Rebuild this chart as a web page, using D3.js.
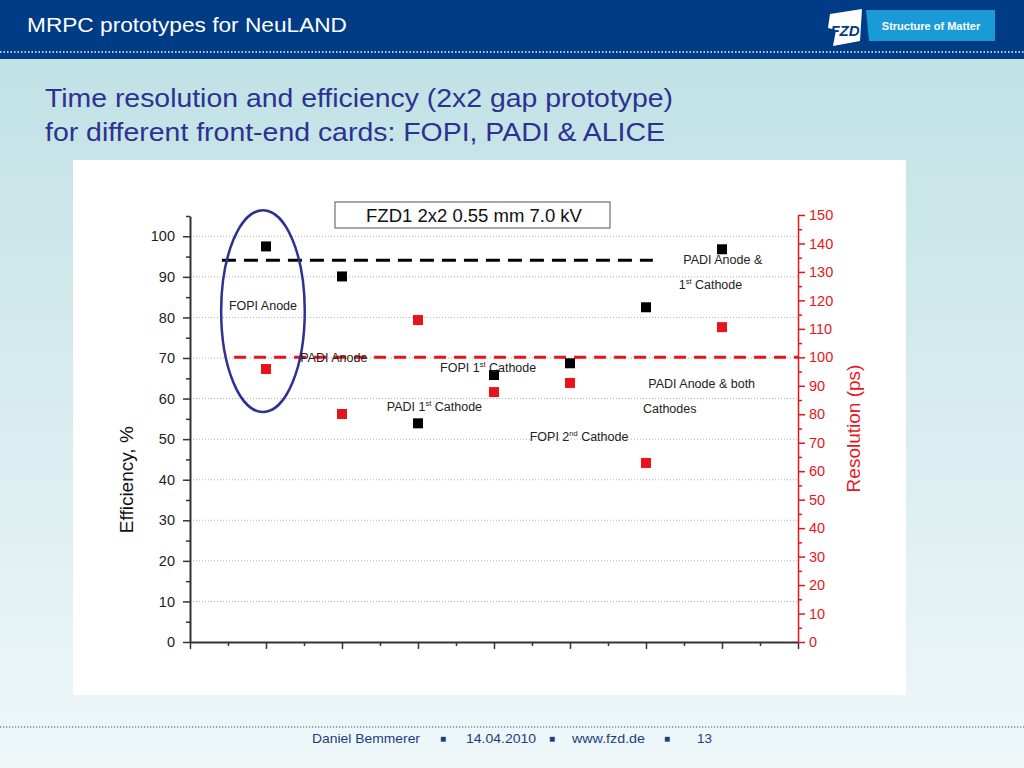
<!DOCTYPE html>
<html>
<head>
<meta charset="utf-8">
<script src="https://cdn.jsdelivr.net/npm/d3@7"></script>
<style>
  html, body { margin: 0; padding: 0; }
  svg { display: block; font-family: "Liberation Sans", Arial, sans-serif; }
</style>
</head>
<body>
<svg id="slide" width="1024" height="768"></svg>
<script>
// Front-end card configurations, one per x position
const cards = ["FOPI Anode", "PADI Anode", "PADI 1st Cathode", "FOPI 1st Cathode",
               "FOPI 2nd Cathode", "PADI Anode & both Cathodes", "PADI Anode & 1st Cathode"];
const cardPos = [1, 2, 3, 4, 5, 6, 7];

// Efficiency (%) - black squares, left axis
const efficiency = [97.5, 90.1, 53.9, 65.8, 68.7, 82.5, 96.8];
// Time resolution (ps) - red squares, right axis
const resolution = [95.9, 80.1, 113.1, 87.8, 91.0, 62.9, 110.6];

// Reference dashed lines
const effReference = 94.1;
const resReference = 100;

// Tick values
const effTicks = [0, 10, 20, 30, 40, 50, 60, 70, 80, 90, 100];
const resTicks = [0, 10, 20, 30, 40, 50, 60, 70, 80, 90, 100, 110, 120, 130, 140, 150];

const svg = d3.select('#slide');

// ---- slide background ----
const defs = svg.append('defs');
const grad = defs.append('linearGradient').attr('id', 'bg').attr('x1', 0).attr('y1', 0).attr('x2', 0).attr('y2', 1);
grad.append('stop').attr('offset', '0%').attr('stop-color', '#bde0e3');
grad.append('stop').attr('offset', '100%').attr('stop-color', '#eff7f9');
svg.append('rect').attr('width', 1024).attr('height', 768).attr('fill', 'url(#bg)');

// header bar
svg.append('rect').attr('width', 1024).attr('height', 59).attr('fill', '#003c86');
svg.append('line').attr('x1', 0).attr('x2', 1024).attr('y1', 52).attr('y2', 52)
    .attr('stroke', '#ffffff').attr('stroke-width', 1.5).attr('stroke-dasharray', '1.5,2');
svg.append('text').attr('x', 27).attr('y', 32).attr('fill', '#ffffff')
    .attr('font-size', 21).attr('textLength', 320).attr('lengthAdjust', 'spacingAndGlyphs')
    .text('MRPC prototypes for NeuLAND');

// logo
svg.append('polygon').attr('points', '830,14 862,9 860,41 833,46 836,30 828,28')
    .attr('fill', '#ffffff');
svg.append('text').attr('x', 845).attr('y', 36).attr('text-anchor', 'middle')
    .attr('fill', '#003c86').attr('font-size', 15).attr('font-weight', 'bold').attr('font-style', 'italic')
    .text('FZD');
svg.append('polygon').attr('points', '866,10 995,10 995,41 869,41').attr('fill', '#1b9ad8');
svg.append('text').attr('x', 931).attr('y', 30).attr('text-anchor', 'middle')
    .attr('fill', '#ffffff').attr('font-size', 11).attr('font-weight', 'bold')
    .text('Structure of Matter');

// slide title
const titleLines = ['Time resolution and efficiency (2x2 gap prototype)',
                    'for different front-end cards: FOPI, PADI & ALICE'];
const titleWidths = [628, 620];
titleLines.forEach((line, i) => {
    svg.append('text').attr('x', 45).attr('y', 107 + i * 34).attr('fill', '#2d3192')
        .attr('font-size', 26).attr('textLength', titleWidths[i]).attr('lengthAdjust', 'spacingAndGlyphs')
        .text(line);
});

// footer
svg.append('line').attr('x1', 0).attr('x2', 1024).attr('y1', 727).attr('y2', 727)
    .attr('stroke', '#2c5590').attr('stroke-width', 1.2).attr('stroke-dasharray', '1.2,1.8');
const footer = [
    { t: 'Daniel Bemmerer', x: 312, w: 108 },
    { t: '\u25A0', x: 440 },
    { t: '14.04.2010', x: 466, w: 70 },
    { t: '\u25A0', x: 549 },
    { t: 'www.fzd.de', x: 572, w: 73 },
    { t: '\u25A0', x: 664 },
    { t: '13', x: 697, w: 15 }
];
footer.forEach((f) => {
    const t = svg.append('text').attr('x', f.x).attr('y', 743).attr('fill', '#1d3e7e')
        .attr('font-size', f.w ? 13 : 10).text(f.t);
    if (f.w) t.attr('textLength', f.w).attr('lengthAdjust', 'spacingAndGlyphs');
    else t.attr('y', 742);
});

// ---- chart panel ----
svg.append('rect').attr('x', 73).attr('y', 160).attr('width', 833).attr('height', 535).attr('fill', '#ffffff');

const x = d3.scaleLinear().domain([0, 8]).range([190, 798]);
const yEff = d3.scaleLinear().domain([0, 105]).range([642, 216]);
const yRes = d3.scaleLinear().domain([0, 150]).range([642, 215]);

const chart = svg.append('g');

// dotted grid lines
chart.append('g').selectAll('line').data(effTicks.slice(1)).join('line')
    .attr('x1', x(0)).attr('x2', x(8))
    .attr('y1', (d) => yEff(d)).attr('y2', (d) => yEff(d))
    .attr('stroke', '#9a9a9a').attr('stroke-width', 0.8).attr('stroke-dasharray', '1,2');

// left axis (efficiency)
const leftMinor = d3.range(5, 106, 10);
chart.append('g').attr('transform', `translate(${x(0)},0)`)
    .call(d3.axisLeft(yEff).tickValues(leftMinor).tickSize(4).tickFormat(''))
    .call((g) => g.select('.domain').remove())
    .call((g) => g.selectAll('line').attr('stroke', '#333').attr('stroke-width', 1.5));
const leftAxis = chart.append('g').attr('transform', `translate(${x(0)},0)`)
    .call(d3.axisLeft(yEff).tickValues(effTicks).tickSize(7).tickSizeOuter(0).tickPadding(8));
leftAxis.select('.domain').attr('stroke', '#333').attr('stroke-width', 2);
leftAxis.selectAll('line').attr('stroke', '#333').attr('stroke-width', 1.5);
leftAxis.selectAll('text').attr('font-size', 14.5).attr('fill', '#222')
    .attr('font-family', '"Liberation Sans", Arial, sans-serif');

// bottom axis (no labels)
const bottomMinor = d3.range(0.5, 8, 1);
chart.append('g').attr('transform', `translate(0,${yEff(0)})`)
    .call(d3.axisBottom(x).tickValues(bottomMinor).tickSize(4).tickFormat(''))
    .call((g) => g.select('.domain').remove())
    .call((g) => g.selectAll('line').attr('stroke', '#333').attr('stroke-width', 1.5));
const bottomAxis = chart.append('g').attr('transform', `translate(0,${yEff(0)})`)
    .call(d3.axisBottom(x).tickValues(d3.range(0, 9)).tickSize(7).tickSizeOuter(0).tickFormat(''));
bottomAxis.select('.domain').attr('stroke', '#333').attr('stroke-width', 2);
bottomAxis.selectAll('line').attr('stroke', '#333').attr('stroke-width', 1.5);

// right axis (resolution)
const red = '#e8141c';
const rightMinor = d3.range(5, 150, 10);
chart.append('g').attr('transform', `translate(${x(8)},0)`)
    .call(d3.axisRight(yRes).tickValues(rightMinor).tickSize(4).tickFormat(''))
    .call((g) => g.select('.domain').remove())
    .call((g) => g.selectAll('line').attr('stroke', red).attr('stroke-width', 1.5));
const rightAxis = chart.append('g').attr('transform', `translate(${x(8)},0)`)
    .call(d3.axisRight(yRes).tickValues(resTicks).tickSize(7).tickSizeOuter(0).tickPadding(4));
rightAxis.select('.domain').attr('stroke', red).attr('stroke-width', 1.5);
rightAxis.selectAll('line').attr('stroke', red).attr('stroke-width', 1.5);
rightAxis.selectAll('text').attr('font-size', 14.5).attr('fill', red)
    .attr('font-family', '"Liberation Sans", Arial, sans-serif');

// axis titles
chart.append('text').attr('transform', `translate(133,${yEff(40)}) rotate(-90)`)
    .attr('text-anchor', 'middle').attr('font-size', 19).attr('fill', '#111')
    .text('Efficiency, %');
chart.append('text').attr('transform', `translate(860,${yRes(75)}) rotate(-90)`)
    .attr('text-anchor', 'middle').attr('font-size', 19).attr('fill', red)
    .text('Resolution (ps)');

// reference dashed lines
chart.append('line')
    .attr('x1', x(0.42)).attr('x2', x(6.09))
    .attr('y1', yEff(effReference)).attr('y2', yEff(effReference))
    .attr('stroke', '#000').attr('stroke-width', 3).attr('stroke-dasharray', '14,8');
chart.append('line')
    .attr('x1', x(0.58)).attr('x2', x(8))
    .attr('y1', yRes(resReference)).attr('y2', yRes(resReference))
    .attr('stroke', red).attr('stroke-width', 3).attr('stroke-dasharray', '12,8');

// data squares
const sq = 10;
chart.append('g').selectAll('rect').data(cardPos).join('rect')
    .attr('x', (d) => x(d) - sq / 2)
    .attr('y', (d, i) => yEff(efficiency[i]) - sq / 2)
    .attr('width', sq).attr('height', sq).attr('fill', '#000');
chart.append('g').selectAll('rect').data(cardPos).join('rect')
    .attr('x', (d) => x(d) - sq / 2)
    .attr('y', (d, i) => yRes(resolution[i]) - sq / 2)
    .attr('width', sq).attr('height', sq).attr('fill', red);

// highlight ellipse round the FOPI Anode points
chart.append('ellipse')
    .attr('cx', x(0.96)).attr('cy', (yEff(106.4) + yEff(56.7)) / 2)
    .attr('rx', x(0.96) - x(0.41)).attr('ry', (yEff(56.7) - yEff(106.4)) / 2)
    .attr('fill', 'none').attr('stroke', '#2e3192').attr('stroke-width', 2.5);

// point annotations: [text, superscript, rest, x, y(efficiency units), anchor]
const notes = [
    ['FOPI Anode', '', '', 0.96, 81.8, 'middle'],
    ['PADI Anode', '', '', 1.45, 69.0, 'start'],
    ['FOPI 1', 'st', ' Cathode', 3.29, 66.5, 'start'],
    ['PADI 1', 'st', ' Cathode', 2.59, 56.9, 'start'],
    ['FOPI 2', 'nd', ' Cathode', 4.47, 49.5, 'start'],
    ['PADI Anode & both', '', '', 6.03, 62.6, 'start'],
    ['Cathodes', '', '', 5.96, 56.4, 'start'],
    ['PADI Anode &', '', '', 6.49, 93.1, 'start'],
    ['1', 'st', ' Cathode', 6.43, 86.9, 'start']
];
notes.forEach(([a, sup, b, nx, ny, anchor]) => {
    const t = chart.append('text').attr('x', x(nx)).attr('y', yEff(ny))
        .attr('font-size', 12.5).attr('fill', '#222').attr('text-anchor', anchor);
    t.append('tspan').text(a);
    if (sup) {
        t.append('tspan').attr('font-size', 7.5).attr('dy', -5).text(sup);
        t.append('tspan').attr('dy', 5).text(b);
    }
});

// label box
chart.append('rect').attr('x', 335).attr('y', 202).attr('width', 275).attr('height', 26)
    .attr('fill', '#fff').attr('stroke', '#555').attr('stroke-width', 1);
chart.append('text').attr('x', 474).attr('y', 222).attr('text-anchor', 'middle')
    .attr('font-size', 18.5).attr('fill', '#111')
    .text('FZD1 2x2 0.55 mm 7.0 kV');
</script>
</body>
</html>
